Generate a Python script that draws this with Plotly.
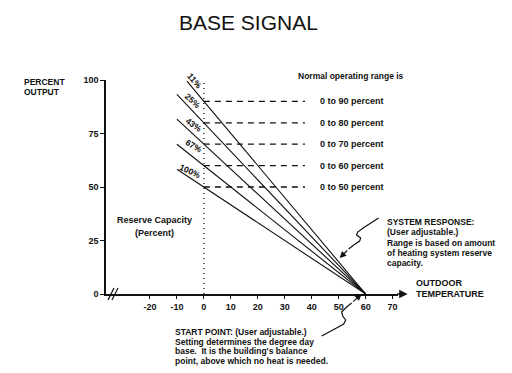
import plotly.graph_objects as go

# ---- data ----
reserve_labels = ["11%", "25%", "43%", "67%", "100%"]
output_at_zero = [90, 80, 70, 60, 50]          # percent output at 0 deg
line_left_x = [-6.3, -10, -10, -10, -10]       # where each line starts
line_left_y = [99.5, 93.3, 81.7, 70, 58.3]
start_point = 60                                # balance point (deg)
range_labels = ["0 to 90 percent", "0 to 80 percent", "0 to 70 percent",
                "0 to 60 percent", "0 to 50 percent"]
label_x = [-3.4, -4.1, -3.7, -3.7, -5.2]
label_y = [99.5, 90.2, 78.9, 69.1, 57.4]
label_angle = [50, 42, 36, 30, 25]
x_ticks = [-20, -10, 0, 10, 20, 30, 40, 50, 60, 70]
y_ticks = [0, 25, 50, 75, 100]

FONT = "Liberation Sans"
BLACK = "#111111"

# page has an 8px body margin; lay out in reference pixels minus 8
OFF = 8
W, H = 512 - OFF, 373 - OFF
X0_REF, PX_PER_DEG = 204, 2.7
Y0_REF, PX_PER_PCT = 294, 2.14
XMIN, XMAX = -36.3, 72
L = (X0_REF + XMIN * PX_PER_DEG) - OFF
R = W - ((X0_REF + XMAX * PX_PER_DEG) - OFF)
T = (Y0_REF - 100 * PX_PER_PCT) - OFF
B = H - (Y0_REF - OFF)
PW, PH = W - L - R, H - T - B


def P(xp, yp):
    """reference pixel -> paper coords"""
    return ((xp - OFF) - L) / PW, (H - B - (yp - OFF)) / PH


fig = go.Figure()

for lx, ly in zip(line_left_x, line_left_y):
    fig.add_trace(go.Scatter(x=[lx, start_point], y=[ly, 0], mode="lines",
                             line=dict(color=BLACK, width=1.1),
                             hoverinfo="skip", showlegend=False))

for yv in output_at_zero:
    fig.add_trace(go.Scatter(x=[0, 37.5], y=[yv, yv], mode="lines",
                             line=dict(color=BLACK, width=1.3, dash="6px,5px"),
                             hoverinfo="skip", showlegend=False))

fig.add_trace(go.Scatter(x=[0, 0], y=[0, 100], mode="lines",
                         line=dict(color=BLACK, width=1.3, dash="1px,4px"),
                         hoverinfo="skip", showlegend=False))


def f(size):
    return dict(family=FONT, size=size, color=BLACK, weight="bold")


ann = []


def text_at(xp, yp, txt, size, xanchor="left", yanchor="middle", **kw):
    x, y = P(xp, yp)
    ann.append(dict(xref="paper", yref="paper", x=x, y=y, text=txt, showarrow=False,
                    xanchor=xanchor, yanchor=yanchor, font=f(size), **kw))


def lines_at(xp, yp, lines, step, size, xanchor="left"):
    for i, t in enumerate(lines):
        text_at(xp, yp + i * step, t, size, xanchor=xanchor)


for t, x, y, a in zip(reserve_labels, label_x, label_y, label_angle):
    ann.append(dict(x=x, y=y, text=t, showarrow=False, textangle=a, font=f(8.5)))

for t, yv in zip(range_labels, output_at_zero):
    ann.append(dict(x=42.2, y=yv, text=t, showarrow=False, xanchor="left", font=f(9)))

text_at(296, 76, "Normal operating range is", 8.5)
lines_at(155, 220, ["Reserve Capacity", "(Percent)"], 13, 9, xanchor="center")
lines_at(22, 82, ["PERCENT", "OUTPUT"], 10, 8.5)
lines_at(385, 222, ["SYSTEM RESPONSE:", "(User adjustable.)", "Range is based on amount",
                    "of heating system reserve", "capacity."], 10.3, 8.5)
lines_at(414, 283, ["OUTDOOR", "TEMPERATURE"], 11, 9)
lines_at(173, 332, ["START POINT: (User adjustable.)", "Setting determines the degree day",
                    "base.  It is the building's balance",
                    "point, above which no heat is needed."], 9.5, 8.5)

tx, ty = P(249, 22)
ann.append(dict(xref="paper", yref="paper", x=tx, y=ty, text="BASE SIGNAL",
                showarrow=False, xanchor="center", yanchor="middle",
                font=dict(family=FONT, size=21, color=BLACK)))


def arrow(tip, tail, size=1.1, width=1.2):
    x, y = P(*tip)
    ann.append(dict(xref="paper", yref="paper", x=x, y=y,
                    ax=tail[0] - tip[0], ay=tail[1] - tip[1], text="",
                    showarrow=True, arrowhead=2, arrowsize=size, arrowwidth=width,
                    arrowcolor=BLACK))


arrow((408, 294), (396, 294), 1.2, 1.4)      # x-axis arrow
arrow((340, 258), (349, 249))                 # system response
arrow((362, 294), (352, 303))                 # start point


def path_from(points):
    s = ""
    for i, (xp, yp) in enumerate(points):
        x, y = P(xp, yp)
        s += ("M" if i == 0 else "L") + f"{x:.4f},{y:.4f} "
    return s


sys_pts = [(379, 218), (365, 227), (358, 232), (357, 235), (361, 238), (360, 241),
           (354, 245), (349, 249)]
start_pts = [(322, 336), (335, 329), (344, 324), (346, 320), (343, 316), (342, 312),
             (347, 307), (352, 303)]
shapes = [dict(type="path", xref="paper", yref="paper", path=path_from(sys_pts),
               line=dict(color=BLACK, width=1.2)),
          dict(type="path", xref="paper", yref="paper", path=path_from(start_pts),
               line=dict(color=BLACK, width=1.2))]

for off in (0, 4):
    x0, y0 = P(108 + off, 300)
    x1, y1 = P(114 + off, 288)
    shapes.append(dict(type="line", xref="paper", yref="paper", x0=x0, y0=y0, x1=x1, y1=y1,
                       line=dict(color=BLACK, width=1.2)))

fig.update_layout(
    width=W, height=H,
    margin=dict(l=L, r=R, t=T, b=B, pad=0, autoexpand=False),
    paper_bgcolor="white", plot_bgcolor="white",
    annotations=ann, shapes=shapes,
    xaxis=dict(range=[XMIN, XMAX], tickvals=x_ticks, ticktext=[str(v) for v in x_ticks],
               showgrid=False, zeroline=False, showline=True, linecolor=BLACK,
               linewidth=1.5, ticks="outside", ticklen=3, tickcolor=BLACK,
               tickfont=f(9)),
    yaxis=dict(range=[0, 100], tickvals=y_ticks, ticktext=[str(v) for v in y_ticks],
               showgrid=False, zeroline=False, showline=True, linecolor=BLACK,
               linewidth=1.5, ticks="outside", ticklen=4, tickcolor=BLACK,
               tickfont=f(9)),
    showlegend=False,
)

fig.write_html("out.html")
